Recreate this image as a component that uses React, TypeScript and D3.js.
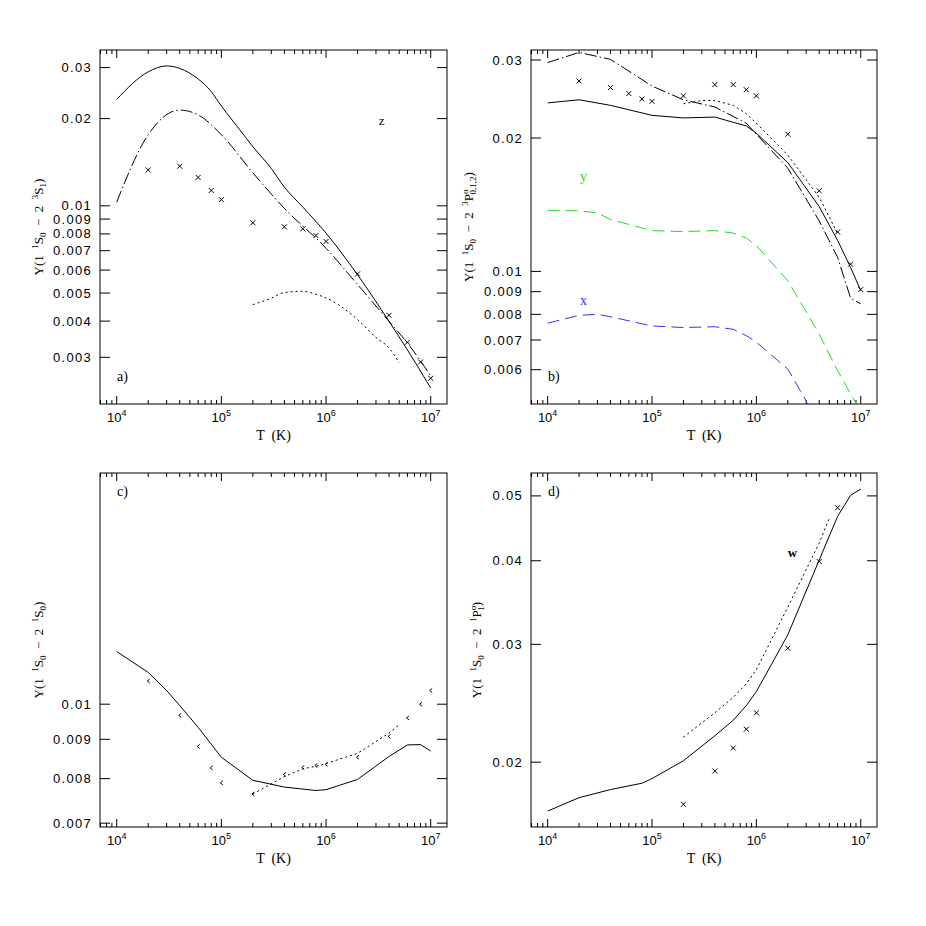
import * as d3 from "d3";
import React from "react";

const width = 926;
const height = 926;

// temperature grids (K) and effective collision strengths
// panel a) 1 1S0 - 2 3S1
const aSolidT = [1e4, 2e4, 3e4, 4e4, 6e4, 8e4, 1e5, 1.5e5, 2e5, 3e5, 4e5, 6e5, 1e6, 2e6, 4e6, 6e6, 1e7];
const aSolid = [0.0233, 0.029, 0.0304, 0.0298, 0.0274, 0.0248, 0.0221, 0.0183, 0.016, 0.01345, 0.0116, 0.0099, 0.00805, 0.00578, 0.00399, 0.00318, 0.00235];
const aDashDotT = [1e4, 2e4, 4e4, 6e4, 1e5, 2e5, 4e5, 1e6, 2e6, 4e6, 6e6, 1e7];
const aDashDot = [0.0103, 0.0176, 0.0214, 0.0206, 0.0176, 0.013, 0.0098, 0.00714, 0.00535, 0.00399, 0.00336, 0.00259];
const aDotT = [2e5, 3e5, 4e5, 6e5, 8e5, 1e6, 2e6, 3e6, 4e6, 5e6];
const aDot = [0.00456, 0.0048, 0.00502, 0.00507, 0.00495, 0.00481, 0.00405, 0.00351, 0.00323, 0.00287];
const aCrossT = [2e4, 4e4, 6e4, 8e4, 1e5, 2e5, 4e5, 6e5, 8e5, 1e6, 2e6, 4e6, 6e6, 8e6, 1e7];
const aCross = [0.0133, 0.0137, 0.01253, 0.0113, 0.0105, 0.00874, 0.00846, 0.00833, 0.0079, 0.00753, 0.00582, 0.00419, 0.00338, 0.00289, 0.00254];
const aYTicks = [0.003, 0.004, 0.005, 0.006, 0.007, 0.008, 0.009, 0.01, 0.02, 0.03];

// panel b) 1 1S0 - 2 3P0,1,2
const bSolidT = [1e4, 2e4, 4e4, 1e5, 2e5, 4e5, 6e5, 8e5, 1e6, 2e6, 4e6, 6e6, 8e6, 1e7];
const bSolid = [0.024, 0.0244, 0.0237, 0.0225, 0.0222, 0.0223, 0.0217, 0.0213, 0.0205, 0.0176, 0.014, 0.01175, 0.0102, 0.00905];
const bDashDotT = [1e4, 2e4, 4e4, 1e5, 2e5, 4e5, 8e5, 1e6, 2e6, 4e6, 6e6, 8e6, 1e7];
const bDashDot = [0.0296, 0.0312, 0.0301, 0.0262, 0.0244, 0.0235, 0.0216, 0.0204, 0.0171, 0.013, 0.01076, 0.0087, 0.00845];
const bDotT = [2e5, 3e5, 4e5, 6e5, 8e5, 1e6, 2e6, 4e6, 6e6];
const bDot = [0.0239, 0.0243, 0.0243, 0.0237, 0.0227, 0.0216, 0.0183, 0.0147, 0.01217];
const bCrossT = [2e4, 4e4, 6e4, 8e4, 1e5, 2e5, 4e5, 6e5, 8e5, 1e6, 2e6, 4e6, 6e6, 8e6, 1e7];
const bCross = [0.0269, 0.026, 0.0252, 0.0245, 0.0242, 0.0249, 0.0264, 0.0264, 0.0257, 0.0249, 0.0204, 0.0152, 0.01227, 0.01038, 0.0091];
const bYT = [1e4, 2e4, 3e4, 4e4, 1e5, 2e5, 4e5, 6e5, 8e5, 1e6, 2e6, 4e6, 6e6, 8e6, 1e7];
const bY = [0.01374, 0.0137, 0.01355, 0.0131, 0.01236, 0.0123, 0.01236, 0.0122, 0.0119, 0.01143, 0.00953, 0.00722, 0.00597, 0.00529, 0.00482];
const bXT = [1e4, 2e4, 3e4, 4e4, 1e5, 2e5, 4e5, 6e5, 8e5, 1e6, 2e6, 3e6, 4e6];
const bX = [0.00764, 0.00796, 0.008, 0.0079, 0.00753, 0.00747, 0.0075, 0.0074, 0.00716, 0.00692, 0.00602, 0.0051, 0.0044];
const bYTicks = [0.006, 0.007, 0.008, 0.009, 0.01, 0.02, 0.03];

// panel c) 1 1S0 - 2 1S0
const cSolidT = [1e4, 2e4, 3e4, 4e4, 6e4, 1e5, 2e5, 4e5, 8e5, 1e6, 2e6, 4e6, 6e6, 8e6, 1e7];
const cSolid = [0.01171, 0.011, 0.01042, 0.00996, 0.00933, 0.00853, 0.00796, 0.0078, 0.00772, 0.00774, 0.00798, 0.00855, 0.00885, 0.00886, 0.00869];
const cDotT = [2e5, 4e5, 6e5, 8e5, 1e6, 2e6, 4e6, 5e6];
const cDot = [0.00764, 0.00805, 0.00824, 0.0083, 0.00837, 0.00863, 0.00917, 0.0094];
const cMarkT = [2e4, 4e4, 6e4, 8e4, 1e5, 2e5, 4e5, 6e5, 8e5, 1e6, 2e6, 4e6, 6e6, 8e6, 1e7];
const cMark = [0.01072, 0.00967, 0.00881, 0.00826, 0.0079, 0.00764, 0.0081, 0.00827, 0.00832, 0.00835, 0.00853, 0.00908, 0.0096, 0.01, 0.01042];
const cYTicks = [0.007, 0.008, 0.009, 0.01];

// panel d) 1 1S0 - 2 1P1
const dSolidT = [1e4, 2e4, 4e4, 8e4, 1e5, 2e5, 4e5, 6e5, 8e5, 1e6, 2e6, 4e6, 6e6, 8e6, 1e7];
const dSolid = [0.0169, 0.0177, 0.0182, 0.0186, 0.0189, 0.0201, 0.0219, 0.0231, 0.0243, 0.0255, 0.031, 0.0401, 0.0466, 0.0501, 0.0512];
const dDotT = [2e5, 4e5, 6e5, 8e5, 1e6, 2e6, 4e6, 5e6];
const dDot = [0.0218, 0.0237, 0.025, 0.0262, 0.0275, 0.0341, 0.0425, 0.0463];
const dCrossT = [2e5, 4e5, 6e5, 8e5, 1e6, 2e6, 4e6, 6e6];
const dCross = [0.0173, 0.0194, 0.021, 0.0224, 0.0237, 0.0296, 0.0399, 0.048];
const dYTicks = [0.02, 0.03, 0.04, 0.05];

const xDomain = [10 ** 3.8405, 10 ** 7.1557];
const sans = "'Liberation Sans', Arial, sans-serif";
const serif = "'Liberation Serif', 'DejaVu Serif', serif";

const dashes = { solid: null, dashdot: "12,3,1.5,3", dot: "2,3", dash: "12,6" };

const zip = (t, v) => t.map((d, i) => [d, v[i]]);

const TitleText = ({ x, y, parts }) => {
  let shift = 0;
  return (
    <text
      transform={`translate(${x},${y}) rotate(-90)`}
      textAnchor="middle"
      fontFamily={serif}
      fontSize={13}
      style={{ whiteSpace: "pre" }}
    >
      {parts.map((p, i) => {
        const target = p.s === "sup" ? -5 : p.s === "sub" ? 3 : 0;
        const dy = target - shift;
        shift = target;
        return (
          <tspan key={i} dy={dy} dx={p.dx || 0} fontSize={p.s ? 9 : 13}>
            {p.t}
          </tspan>
        );
      })}
    </text>
  );
};

const Panel = ({ id, box, yDomain, yTicks, series, title, titleX, tag, tagTop, labels, smooth }) => {
  const x = d3.scaleLog().domain(xDomain).range([box.l, box.r]);
  const y = d3.scaleLog().domain(yDomain).range([box.b, box.t]);
  const line = d3
    .line()
    .x((d) => x(d[0]))
    .y((d) => y(d[1]))
    .curve(smooth ? d3.curveMonotoneX : d3.curveLinear);
  const xTicks = x.ticks().filter((t) => t >= xDomain[0] && t <= xDomain[1]);
  const isMajor = (t) => Math.abs(Math.log10(t) - Math.round(Math.log10(t))) < 1e-9;

  return (
    <g>
      <defs>
        <clipPath id={id}>
          <rect x={box.l} y={box.t} width={box.r - box.l} height={box.b - box.t} />
        </clipPath>
      </defs>
      <rect x={box.l} y={box.t} width={box.r - box.l} height={box.b - box.t} fill="none" stroke="#000" strokeWidth={1} />
      {xTicks.map((t) => {
        const len = isMajor(t) ? 8 : 4;
        const px = x(t);
        return (
          <g key={t}>
            <line x1={px} x2={px} y1={box.b} y2={box.b - len} stroke="#000" />
            <line x1={px} x2={px} y1={box.t} y2={box.t + len} stroke="#000" />
            {isMajor(t) && (
              <text x={px} y={box.b + 18} textAnchor="middle" fontFamily={sans} fontSize={13}>
                10
                <tspan dy={-6} fontSize={9}>
                  {Math.round(Math.log10(t))}
                </tspan>
              </text>
            )}
          </g>
        );
      })}
      {yTicks.map((t) => (
        <g key={t}>
          <line x1={box.l} x2={box.l + 10} y1={y(t)} y2={y(t)} stroke="#000" />
          <line x1={box.r} x2={box.r - 10} y1={y(t)} y2={y(t)} stroke="#000" />
          <text x={box.l - 8} y={y(t)} dy="0.35em" textAnchor="end" fontFamily={sans} fontSize={13} letterSpacing={1.3}>
            {String(t)}
          </text>
        </g>
      ))}
      <text x={(box.l + box.r) / 2} y={box.b + 36} textAnchor="middle" fontFamily={serif} fontSize={14} style={{ whiteSpace: "pre" }}>
        T  (K)
      </text>
      <TitleText x={titleX} y={(box.t + box.b) / 2} parts={title} />
      <text x={box.l + 17} y={tagTop ? box.t + 23 : box.b - 23} fontFamily={serif} fontSize={14}>
        {tag}
      </text>
      <g clipPath={`url(#${id})`}>
        {series.map((s, i) => {
          const pts = zip(s.t, s.v);
          const color = s.color || "#000";
          if (s.kind === "cross") {
            return (
              <path
                key={i}
                d={pts.map((p) => { const cx = x(p[0]), cy = y(p[1]); return `M${cx - 2.5},${cy - 2.5}L${cx + 2.5},${cy + 2.5}M${cx - 2.5},${cy + 2.5}L${cx + 2.5},${cy - 2.5}`; }).join("")}
                stroke={color}
                fill="none"
                strokeWidth={1}
              />
            );
          }
          if (s.kind === "chev") {
            return (
              <path
                key={i}
                d={pts.map((p) => { const cx = x(p[0]), cy = y(p[1]); return `M${cx + 1.5},${cy - 2}L${cx - 1},${cy}L${cx + 1.5},${cy + 2}`; }).join("")}
                stroke={color}
                fill="none"
                strokeWidth={1}
              />
            );
          }
          return (
            <path key={i} d={line(pts)} fill="none" stroke={color} strokeWidth={1} strokeDasharray={dashes[s.kind] || undefined} />
          );
        })}
      </g>
      {labels.map((lb, i) => (
        <text key={i} x={x(lb.t)} y={y(lb.v)} dy="0.35em" textAnchor="middle" fontFamily={serif} fontSize={lb.size || 14} fontWeight={lb.bold ? "bold" : "normal"} fill={lb.color || "#000"}>
          {lb.text}
        </text>
      ))}
    </g>
  );
};

const titleA = [{ t: "Υ(1  " }, { t: "1", s: "sup" }, { t: "S" }, { t: "0", s: "sub" }, { t: "  −  2  " }, { t: "3", s: "sup" }, { t: "S" }, { t: "1", s: "sub" }, { t: ")" }];
const titleB = [{ t: "Υ(1  " }, { t: "1", s: "sup" }, { t: "S" }, { t: "0", s: "sub" }, { t: "  −  2  " }, { t: "3", s: "sup" }, { t: "P" }, { t: "o", s: "sup" }, { t: "0,1,2", s: "sub", dx: -5 }, { t: ")" }];
const titleC = [{ t: "Υ(1  " }, { t: "1", s: "sup" }, { t: "S" }, { t: "0", s: "sub" }, { t: "  −  2  " }, { t: "1", s: "sup" }, { t: "S" }, { t: "0", s: "sub" }, { t: ")" }];
const titleD = [{ t: "Υ(1  " }, { t: "1", s: "sup" }, { t: "S" }, { t: "0", s: "sub" }, { t: "  −  2  " }, { t: "1", s: "sup" }, { t: "P" }, { t: "o", s: "sup" }, { t: "1", s: "sub", dx: -5 }, { t: ")" }];

export default function App() {
  return (
    <svg width={width} height={height} style={{ position: "absolute", left: 0, top: 0, background: "#fff" }}>
      <Panel
        id="clipA"
        smooth
        box={{ l: 100, r: 447, t: 50, b: 404 }}
        yDomain={[0.00207, 0.0345]}
        yTicks={aYTicks}
        title={titleA}
        titleX={43}
        tag="a)"
        series={[
          { t: aSolidT, v: aSolid, kind: "solid" },
          { t: aDashDotT, v: aDashDot, kind: "dashdot" },
          { t: aDotT, v: aDot, kind: "dot" },
          { t: aCrossT, v: aCross, kind: "cross" },
        ]}
        labels={[{ t: 3.4e6, v: 0.0197, text: "z", size: 13 }]}
      />
      <Panel
        id="clipB"
        box={{ l: 531, r: 877, t: 50, b: 404 }}
        yDomain={[0.00502, 0.0316]}
        yTicks={bYTicks}
        title={titleB}
        titleX={473}
        tag="b)"
        series={[
          { t: bSolidT, v: bSolid, kind: "solid" },
          { t: bDashDotT, v: bDashDot, kind: "dashdot" },
          { t: bDotT, v: bDot, kind: "dot" },
          { t: bCrossT, v: bCross, kind: "cross" },
          { t: bYT, v: bY, kind: "dash", color: "#22dd22" },
          { t: bXT, v: bX, kind: "dash", color: "#3333ff" },
        ]}
        labels={[
          { t: 2.2e4, v: 0.0164, text: "y", color: "#22dd22" },
          { t: 2.2e4, v: 0.00863, text: "x", color: "#3333ff" },
        ]}
      />
      <Panel
        id="clipC"
        box={{ l: 100, r: 447, t: 473, b: 827 }}
        yDomain={[0.00692, 0.02]}
        yTicks={cYTicks}
        title={titleC}
        titleX={43}
        tag="c)"
        tagTop
        series={[
          { t: cSolidT, v: cSolid, kind: "solid" },
          { t: cDotT, v: cDot, kind: "dot" },
          { t: cMarkT, v: cMark, kind: "chev" },
        ]}
        labels={[]}
      />
      <Panel
        id="clipD"
        box={{ l: 531, r: 877, t: 473, b: 827 }}
        yDomain={[0.016, 0.0541]}
        yTicks={dYTicks}
        title={titleD}
        titleX={481}
        tag="d)"
        tagTop
        series={[
          { t: dSolidT, v: dSolid, kind: "solid" },
          { t: dDotT, v: dDot, kind: "dot" },
          { t: dCrossT, v: dCross, kind: "cross" },
        ]}
        labels={[{ t: 2.21e6, v: 0.0411, text: "w", bold: true, size: 13 }]}
      />
    </svg>
  );
}
